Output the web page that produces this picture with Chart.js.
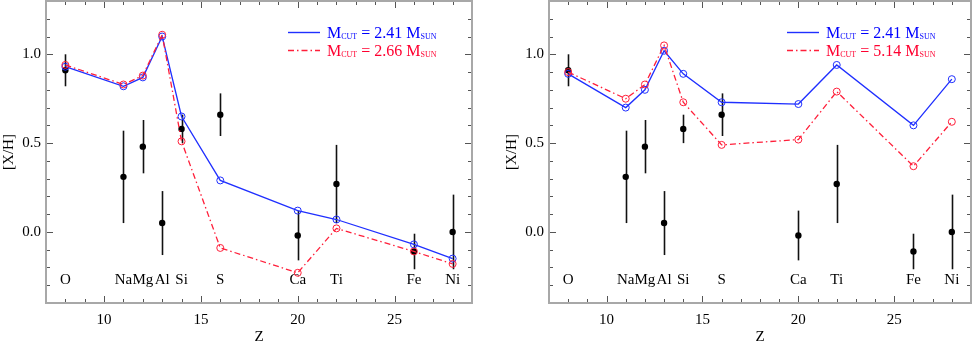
<!DOCTYPE html>
<html>
<head>
<meta charset="utf-8">
<script src="https://cdn.jsdelivr.net/npm/chart.js@4/dist/chart.umd.min.js"></script>
<style>
  body { margin: 0; background: #fff; overflow: hidden; }
  canvas { position: absolute; top: -4px; }
  #left { left: 0; }
  #right { left: 488px; }
</style>
</head>
<body>
<canvas id="left" width="488" height="345"></canvas>
<canvas id="right" width="488" height="345"></canvas>
<script>
// atomic number and element name
const Z = [8, 11, 12, 13, 14, 16, 20, 22, 26, 28];
const elements = ['O', 'Na', 'Mg', 'Al', 'Si', 'S', 'Ca', 'Ti', 'Fe', 'Ni'];

// observed abundances with error bars
const obs = [0.91, 0.31, 0.48, 0.05, 0.58, 0.66, -0.02, 0.27, -0.11, 0.00];
const obsHi = [1.00, 0.57, 0.63, 0.23, 0.66, 0.78, 0.12, 0.49, -0.01, 0.21];
const obsLo = [0.82, 0.05, 0.33, -0.13, 0.50, 0.54, -0.16, 0.05, -0.21, -0.21];

// models, left panel
const leftA = [0.93, 0.82, 0.87, 1.10, 0.65, 0.29, 0.12, 0.07, -0.07, -0.15];
const leftB = [0.94, 0.83, 0.88, 1.11, 0.51, -0.09, -0.23, 0.02, -0.11, -0.18];
// models, right panel
const rightA = [0.89, 0.70, 0.80, 1.02, 0.89, 0.73, 0.72, 0.94, 0.60, 0.86];
const rightB = [0.90, 0.75, 0.83, 1.05, 0.73, 0.49, 0.52, 0.79, 0.37, 0.62];

const labelY = -0.27;
const SERIF = "'Liberation Serif', 'Times New Roman', serif";
const BLUE = '#1f2fff';
const RED = '#ff1f3a';

const pts = vals => Z.map((z, i) => ({ x: z, y: vals[i] }));

// frame, inward ticks, error bars, element names, legend
const decor = {
  id: 'decor',
  beforeDatasetsDraw(chart) {
    const { ctx, scales: { x, y } } = chart;
    ctx.save();
    ctx.strokeStyle = '#111';
    ctx.lineWidth = 1.6;
    Z.forEach((z, i) => {
      const px = Math.round(x.getPixelForValue(z)) + 0.5;
      ctx.beginPath();
      ctx.moveTo(px, y.getPixelForValue(obsHi[i]));
      ctx.lineTo(px, y.getPixelForValue(obsLo[i]));
      ctx.stroke();
    });
    ctx.fillStyle = '#000';
    ctx.font = '15px ' + SERIF;
    ctx.textAlign = 'center';
    ctx.textBaseline = 'middle';
    Z.forEach((z, i) => {
      ctx.fillText(elements[i], x.getPixelForValue(z), y.getPixelForValue(labelY));
    });
    ctx.restore();
  },
  afterDraw(chart) {
    const { ctx, chartArea: a, scales: { x, y } } = chart;
    ctx.save();
    // inward ticks
    ctx.strokeStyle = '#555';
    ctx.lineWidth = 1;
    x.ticks.forEach(t => {
      const px = Math.round(x.getPixelForValue(t.value)) + 0.5;
      const len = t.value % 5 === 0 ? 7 : 4;
      ctx.beginPath();
      ctx.moveTo(px, a.bottom); ctx.lineTo(px, a.bottom - len);
      ctx.moveTo(px, a.top); ctx.lineTo(px, a.top + len);
      ctx.stroke();
    });
    y.ticks.forEach(t => {
      const py = Math.round(y.getPixelForValue(t.value)) + 0.5;
      const major = Math.abs(t.value * 2 - Math.round(t.value * 2)) < 1e-6;
      const len = major ? 7 : 4;
      ctx.beginPath();
      ctx.moveTo(a.left, py); ctx.lineTo(a.left + len, py);
      ctx.moveTo(a.right, py); ctx.lineTo(a.right - len, py);
      ctx.stroke();
    });
    // frame
    ctx.strokeStyle = '#a8a8a8';
    ctx.lineWidth = 2;
    ctx.strokeRect(a.left, a.top, a.right - a.left, a.bottom - a.top);

    // legend
    const items = chart.options.plugins.decor.legend;
    items.forEach((it, k) => {
      const ly = a.top + 31.5 + k * 18;
      const lx = a.right - 184;
      ctx.strokeStyle = it.line;
      ctx.lineWidth = 1.4;
      ctx.setLineDash(it.dash || []);
      ctx.beginPath();
      ctx.moveTo(lx, ly); ctx.lineTo(lx + 32, ly);
      ctx.stroke();
      ctx.setLineDash([]);
      let tx = a.right - 145;
      const base = ly + 5;
      ctx.fillStyle = it.text;
      ctx.textAlign = 'left';
      ctx.textBaseline = 'alphabetic';
      const parts = [['M', 16, 0], ['CUT', 8, 1], [' = ' + it.mass + ' ', 16, 0], ['M', 16, 0], ['SUN', 8, 1]];
      parts.forEach(([s, size, dy]) => {
        ctx.font = size + 'px ' + SERIF;
        ctx.fillText(s, tx, base + dy);
        tx += ctx.measureText(s).width;
      });
    });
    ctx.restore();
  }
};

function makeChart(id, a, b, massB, padLeft, padRight) {
  return new Chart(document.getElementById(id), {
    type: 'scatter',
    data: {
      datasets: [
        {
          data: pts(a), showLine: true, borderColor: BLUE, borderWidth: 1.3,
          pointStyle: 'circle', pointRadius: 3.5, pointBackgroundColor: 'rgba(0,0,0,0)',
          pointBorderColor: BLUE, pointBorderWidth: 1, order: 2
        },
        {
          data: pts(b), showLine: true, borderColor: RED, borderWidth: 1.3,
          borderDash: [6, 3, 1.5, 3],
          pointStyle: 'circle', pointRadius: 3.5, pointBackgroundColor: 'rgba(0,0,0,0)',
          pointBorderColor: RED, pointBorderWidth: 1, order: 1
        },
        {
          data: pts(obs), showLine: false, pointRadius: 3.2,
          pointBackgroundColor: '#000', pointBorderColor: '#000', pointBorderWidth: 0, order: 3
        }
      ]
    },
    options: {
      responsive: false,
      animation: false,
      devicePixelRatio: 1,
      layout: { padding: { left: padLeft, right: padRight, top: 0, bottom: 0 } },
      plugins: {
        legend: { display: false },
        tooltip: { enabled: false },
        decor: {
          legend: [
            { text: '#0000ff', line: BLUE, mass: '2.41' },
            { text: '#ff0030', line: RED, mass: massB, dash: [6, 3, 1.5, 3] }
          ]
        }
      },
      scales: {
        x: {
          type: 'linear', min: 7, max: 29,
          afterFit: s => { s.height = 38; s.paddingLeft = 0; s.paddingRight = 0; },
          grid: { display: false, drawTicks: false },
          border: { display: false },
          ticks: {
            stepSize: 1, autoSkip: false, maxRotation: 0, padding: 8,
            color: '#000', font: { family: SERIF, size: 15 },
            callback: v => (v % 5 === 0 ? String(v) : '')
          },
          title: { display: true, text: 'Z', color: '#000', font: { family: SERIF, size: 15 }, padding: { top: 0, bottom: -5 } }
        },
        y: {
          min: -0.4, max: 1.3,
          afterFit: s => { s.width = 46; s.paddingTop = 0; s.paddingBottom = 0; },
          grid: { display: false, drawTicks: false },
          border: { display: false },
          ticks: {
            stepSize: 0.1, autoSkip: false, padding: 5,
            color: '#000', font: { family: SERIF, size: 15 },
            callback: v => (Math.abs(v * 2 - Math.round(v * 2)) < 1e-6 ? v.toFixed(1) : '')
          },
          title: { display: true, text: '[X/H]', color: '#000', font: { family: SERIF, size: 15 }, padding: { top: 0, bottom: 0 } }
        }
      }
    },
    plugins: [decor]
  });
}

makeChart('left', leftA, leftB, '2.66', 0, 16);
makeChart('right', rightA, rightB, '5.14', 15, 1);
</script>
</body>
</html>
